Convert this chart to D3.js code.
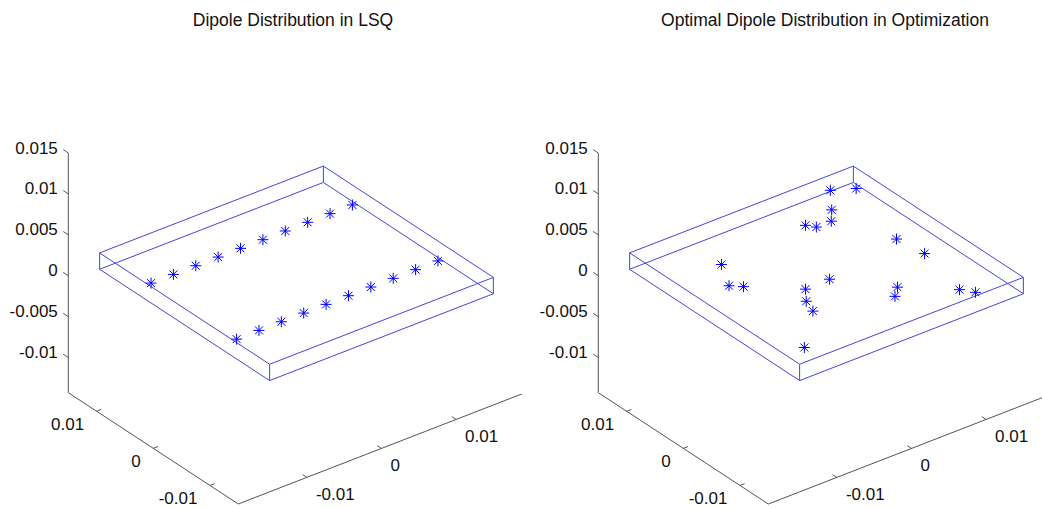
<!DOCTYPE html>
<html>
<head>
<meta charset="utf-8">
<script src="https://cdn.jsdelivr.net/npm/d3@7"></script>
<style>
  html, body { margin: 0; padding: 0; background: #fff; }
  svg { display: block; }
  text { font-family: "Liberation Sans", Arial, Helvetica, sans-serif; fill: #111; }
</style>
</head>
<body>
<svg id="chart" width="1042" height="508"></svg>
<script>
// ---- axis limits and ticks (metres) ----
const xLim = [-0.0192, 0.0188];
const yLim = [-0.015, 0.015];
const zLim = [-0.0143, 0.015];
const xTicks = [-0.01, 0, 0.01];
const yTicks = [-0.01, 0, 0.01];
const zTicks = [-0.01, -0.005, 0, 0.005, 0.01, 0.015];
const xTickLabels = ["-0.01", "0", "0.01"];
const yTickLabels = ["-0.01", "0", "0.01"];
const zTickLabels = ["-0.01", "-0.005", "0", "0.005", "0.01", "0.015"];

// ---- board outline (a thin slab) ----
const boardX = [-0.015, 0.015];
const boardY = [-0.015, 0.015];
const boardZ = [-0.0007, 0.0013];
const dipoleZ = 0.0003;

// ---- least-squares dipoles: two rows of ten ----
const lsqX = [-0.0135, -0.0105, -0.0075, -0.0045, -0.0015, 0.0015, 0.0045, 0.0075, 0.0105, 0.0135,
              -0.0135, -0.0105, -0.0075, -0.0045, -0.0015, 0.0015, 0.0045, 0.0075, 0.0105, 0.0135];
const lsqY = [0.0079, 0.0079, 0.0079, 0.0079, 0.0079, 0.0079, 0.0079, 0.0079, 0.0079, 0.0079,
              -0.0072, -0.0072, -0.0072, -0.0072, -0.0072, -0.0072, -0.0072, -0.0072, -0.0072, -0.0072];

// ---- optimised dipoles ----
const optX = [0.0110, 0.0134, 0.0086, 0.0071, 0.0044, 0.0051, 0.0103, 0.0108, -0.0077, -0.0098,
              -0.0087, -0.0005, -0.0038, -0.0053, -0.0060, 0.0042, 0.0028, 0.0091, 0.0101, -0.0114];
const optY = [0.0138, 0.0124, 0.0104, 0.0085, 0.0095, 0.0085, 0.0012, -0.0031, 0.0084, 0.0043,
              0.0032, -0.0012, -0.0013, -0.0034, -0.0055, -0.0070, -0.0084, -0.0115, -0.0130, -0.0111];

const titles = ["Dipole Distribution in LSQ", "Optimal Dipole Distribution in Optimization"];

const svg = d3.select("#chart");

// fractional position along each axis
const xs = d3.scaleLinear().domain(xLim).range([0, 1]);
const ys = d3.scaleLinear().domain(yLim).range([0, 1]);
const zs = d3.scaleLinear().domain(zLim).range([0, 1]);

// screen vectors of the full axis spans (orthographic view, az -37.5, el 30)
const VX = [283.4, -110.0];
const VY = [-170.0, -111.3];
const VZ = [0, -239.7];

function makeProjector(ox, oy) {
  return (x, y, z) => {
    const fx = xs(x), fy = ys(y), fz = zs(z);
    return [ox + fx * VX[0] + fy * VY[0] + fz * VZ[0],
            oy + fx * VX[1] + fy * VY[1] + fz * VZ[1]];
  };
}

function unit(v, len) {
  const n = Math.hypot(v[0], v[1]);
  return [v[0] / n * len, v[1] / n * len];
}

function drawPanel(ox, oy, title, titleX, px, py) {
  const P = makeProjector(ox, oy);
  const g = svg.append("g");
  const line = d3.line();

  const axisColor = "#555";
  const x0 = xLim[0], y0 = yLim[0], z0 = zLim[0];

  // axis lines
  g.append("path").attr("d", line([P(x0, yLim[1], z0), P(x0, yLim[1], zLim[1])]))
    .attr("stroke", axisColor).attr("fill", "none");
  g.append("path").attr("d", line([P(x0, yLim[1], z0), P(x0, y0, z0)]))
    .attr("stroke", axisColor).attr("fill", "none");
  g.append("path").attr("d", line([P(x0, y0, z0), P(xLim[1], y0, z0)]))
    .attr("stroke", axisColor).attr("fill", "none");

  const tY = unit(VY, 6);
  const tX = unit(VX, 5);

  // z ticks
  zTicks.forEach((t, i) => {
    const a = P(x0, yLim[1], t);
    g.append("path").attr("d", line([a, [a[0] + tY[0], a[1] + tY[1]]]))
      .attr("stroke", axisColor).attr("fill", "none");
    g.append("text").attr("x", a[0] - 10.5).attr("y", a[1] - 5)
      .attr("text-anchor", "end").attr("dominant-baseline", "central")
      .attr("font-size", 17).text(zTickLabels[i]);
  });
  // y ticks
  yTicks.forEach((t, i) => {
    const a = P(x0, t, z0);
    g.append("path").attr("d", line([a, [a[0] + tX[0], a[1] + tX[1]]]))
      .attr("stroke", axisColor).attr("fill", "none");
    g.append("text").attr("x", a[0] - 12.5).attr("y", a[1] + 13)
      .attr("text-anchor", "end").attr("dominant-baseline", "central")
      .attr("font-size", 17).text(yTickLabels[i]);
  });
  // x ticks
  const tY5 = unit(VY, 5);
  xTicks.forEach((t, i) => {
    const a = P(t, y0, z0);
    g.append("path").attr("d", line([a, [a[0] + tY5[0], a[1] + tY5[1]]]))
      .attr("stroke", axisColor).attr("fill", "none");
    g.append("text").attr("x", a[0] + 9).attr("y", a[1] + 17.5)
      .attr("text-anchor", "start").attr("dominant-baseline", "central")
      .attr("font-size", 17).text(xTickLabels[i]);
  });

  // board wireframe: all twelve edges
  const corners = [];
  boardZ.forEach(z => {
    corners.push([P(boardX[0], boardY[0], z), P(boardX[1], boardY[0], z),
                  P(boardX[1], boardY[1], z), P(boardX[0], boardY[1], z)]);
  });
  const boxColor = "#4646d2";
  corners.forEach(face => {
    g.append("path").attr("d", line(face) + "Z")
      .attr("stroke", boxColor).attr("stroke-width", 1).attr("fill", "none");
  });
  for (let k = 0; k < 4; k++) {
    g.append("path").attr("d", line([corners[0][k], corners[1][k]]))
      .attr("stroke", boxColor).attr("stroke-width", 1).attr("fill", "none");
  }

  // dipoles as '*' markers
  const r1 = 5.5, r2 = 4;
  const star = `M0,${-r1}V${r1}M${-r1},0H${r1}M${-r2},${-r2}L${r2},${r2}M${-r2},${r2}L${r2},${-r2}`;
  g.selectAll("path.dip").data(px.map((x, i) => P(x, py[i], dipoleZ)))
    .join("path").attr("class", "dip")
    .attr("transform", d => `translate(${d[0]},${d[1]})`)
    .attr("d", star).attr("stroke", "#0000ff").attr("stroke-width", 1).attr("fill", "none");

  // title
  svg.append("text").attr("x", titleX).attr("y", 26).attr("text-anchor", "middle")
    .attr("font-size", 17.5).text(title);
}

drawPanel(238.3, 504, titles[0], 293, lsqX, lsqY);
drawPanel(768.3, 504, titles[1], 825, optX, optY);
</script>
</body>
</html>
